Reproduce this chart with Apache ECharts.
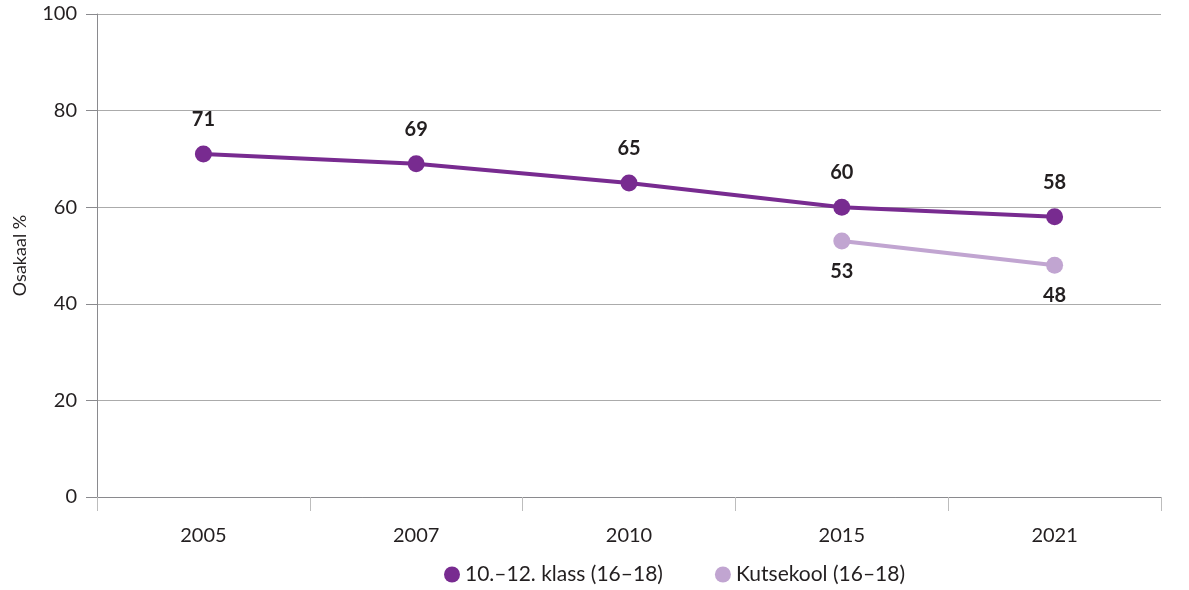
<!DOCTYPE html>
<html>
<head>
<meta charset="utf-8">
<script src="https://cdn.jsdelivr.net/npm/echarts@6/dist/echarts.min.js"></script>
<style>
  html, body { margin: 0; padding: 0; background: #fff; }
  #chart { width: 1189px; height: 590px; }
</style>
</head>
<body>
<div id="chart"></div>
<script>
// andmed
var years = ['2005', '2007', '2010', '2015', '2021'];
var klassData = [71, 69, 65, 60, 58];
var kutseData = [null, null, null, 53, 48];
var yTicks = [0, 20, 40, 60, 80, 100];

var myChart = echarts.init(document.getElementById('chart'));
var font = 'Lato, "Open Sans", sans-serif';

var option = {
	animation: false,
	textStyle: { fontFamily: font },
	grid: { left: 97, right: 28, top: 14, bottom: 93 },
	legend: {
		bottom: 0,
		left: 439,
		icon: 'circle',
		itemWidth: 16,
		itemHeight: 16,
		itemGap: 52,
		textStyle: { fontSize: 21, color: '#231f20', fontFamily: font },
		data: ['10.–12. klass (16–18)', 'Kutsekool (16–18)']
	},
	xAxis: {
		type: 'category',
		data: years,
		boundaryGap: true,
		axisLine: { lineStyle: { color: '#8a8a8e', width: 1 } },
		axisTick: { show: true, length: 14, lineStyle: { color: '#bdbdbd' } },
		axisLabel: { fontSize: 20, color: '#231f20', margin: 29, fontFamily: font }
	},
	yAxis: {
		type: 'value',
		min: yTicks[0],
		max: yTicks[yTicks.length - 1],
		interval: 20,
		name: 'Osakaal %',
		nameLocation: 'middle',
		nameGap: 68,
		nameRotate: 90,
		nameTextStyle: { fontSize: 18, color: '#231f20', fontFamily: font },
		axisLine: { show: true, lineStyle: { color: '#8a8a8e' } },
		axisTick: { show: true, inside: false, length: 11, lineStyle: { color: '#8a8a8e' } },
		axisLabel: { fontSize: 20, color: '#231f20', margin: 20, fontFamily: font },
		splitLine: { lineStyle: { color: '#ababab', width: 1 } }
	},
	series: [
		{
			name: '10.–12. klass (16–18)',
			type: 'line',
			data: klassData,
			symbol: 'circle',
			symbolSize: 17,
			itemStyle: { color: '#782b90' },
			lineStyle: { color: '#782b90', width: 4 },
			label: {
				show: true,
				position: 'top',
				distance: 16,
				fontSize: 20,
				fontWeight: 'bold',
				color: '#231f20',
				fontFamily: font
			}
		},
		{
			name: 'Kutsekool (16–18)',
			type: 'line',
			data: kutseData,
			symbol: 'circle',
			symbolSize: 17,
			itemStyle: { color: '#c1a5d1' },
			lineStyle: { color: '#c1a5d1', width: 4 },
			label: {
				show: true,
				position: 'bottom',
				distance: 12,
				fontSize: 20,
				fontWeight: 'bold',
				color: '#231f20',
				fontFamily: font
			}
		}
	]
};

myChart.setOption(option);
</script>
</body>
</html>
